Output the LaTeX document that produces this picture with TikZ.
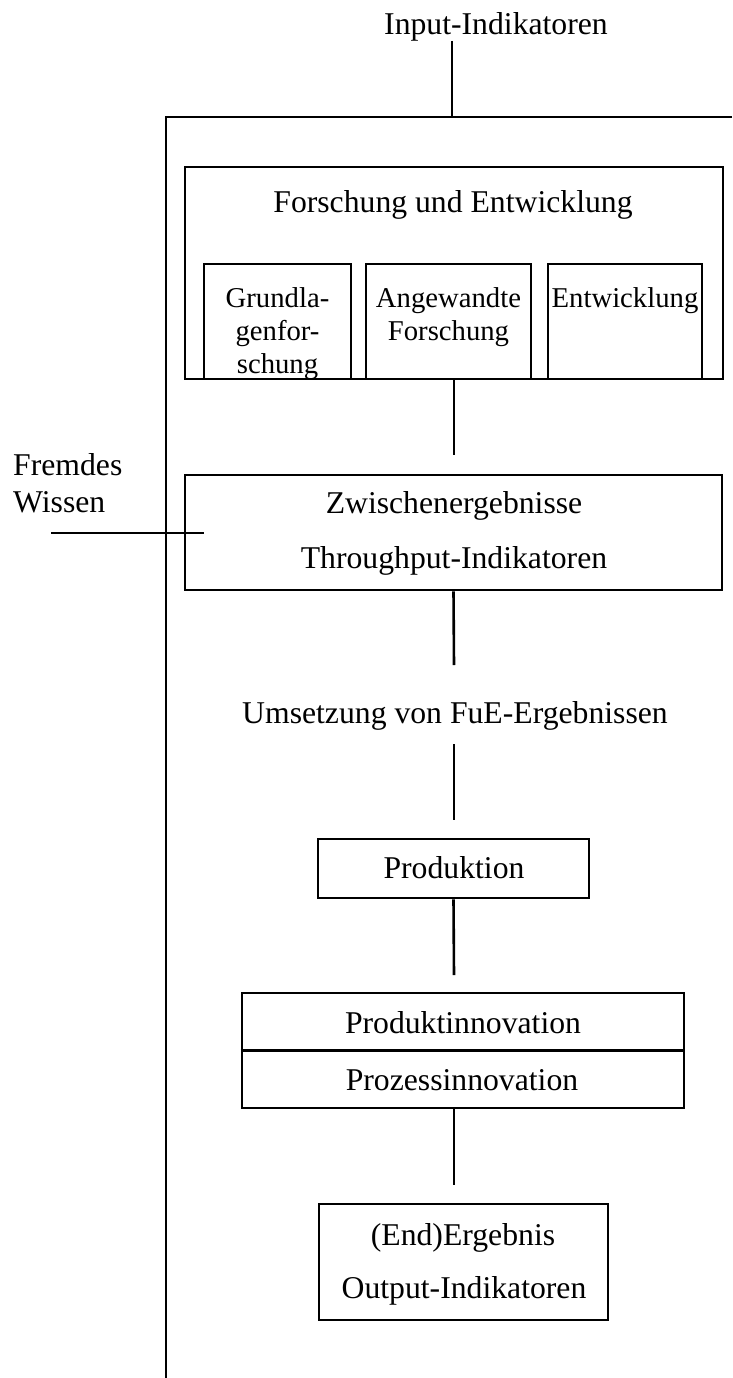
\documentclass[tikz,border=0pt]{standalone}
\usepackage{fontspec}
\setmainfont{Liberation Serif}
\begin{document}
\begin{tikzpicture}[x=1pt,y=-1pt,
  ln/.style={line width=2.6pt},
  box/.style={draw, rectangle, line width=2.6pt, inner sep=0pt},
  txt/.style={inner sep=0pt, anchor=base, font=\fontsize{31.7}{36.5}\selectfont},
  subtxt/.style={inner sep=0pt, anchor=base, font=\fontsize{28.7}{33}\selectfont}]
\useasboundingbox (0,0) rectangle (732,1378);

% outer frame: top bar and left rail
\coordinate (tr) at (732,117);
\coordinate (tl) at (166,117);
\coordinate (bl) at (166,1378);
\draw[ln] (tr) -- (tl) -- (bl);

% input indicators feeding the frame
\node[txt] (inp) at (496,35) {Input-Indikatoren};
\coordinate (inpA) at (452,41);
\coordinate (inpB) at (452,117);
\draw[ln] (inpA) -- (inpB);

% research and development block
\node[box, minimum width=538, minimum height=212] (fue) at (454,273) {};
\node[txt] (fuet) at (453,212) {Forschung und Entwicklung};
\node[box, minimum width=147, minimum height=115] (gl) at (277.5,321.5) {};
\node[box, minimum width=165, minimum height=115] (aw) at (448.5,321.5) {};
\node[box, minimum width=154, minimum height=115] (en) at (625,321.5) {};
\node[subtxt] (gl1) at (277.5,307) {Grundla-};
\node[subtxt] (gl2) at (277.5,340) {genfor-};
\node[subtxt] (gl3) at (277.5,373) {schung};
\node[subtxt] (aw1) at (448.5,307) {Angewandte};
\node[subtxt] (aw2) at (448.5,340) {Forschung};
\node[subtxt] (en1) at (625,307) {Entwicklung};

\coordinate (c1) at (454,455);
\draw[ln] (fue.south) -- (c1);

% intermediate results
\node[box, minimum width=537, minimum height=115] (zw) at (453.5,532.5) {};
\node[txt] (zw1) at (454,513) {Zwischenergebnisse};
\node[txt] (zw2) at (454,568) {Throughput-Indikatoren};

% external knowledge entering from the left
\node[txt, anchor=base west] (fw1) at (13,475) {Fremdes};
\node[txt, anchor=base west] (fw2) at (13,512) {Wissen};
\coordinate (fwA) at (51,533);
\coordinate (fwB) at (204,533);
\draw[ln] (fwA) -- (fwB);

\coordinate (c2) at (454,665);
\draw[ln] (zw.south) -- (c2);

% transfer of results
\node[txt] (ums) at (455,723) {Umsetzung von FuE-Ergebnissen};
\coordinate (c3) at (454,744);
\coordinate (c4) at (454,820);
\draw[ln] (c3) -- (c4);

% production
\node[box, minimum width=271, minimum height=59] (prod) at (453.5,868.5) {};
\node[txt] (prodt) at (454,878) {Produktion};
\coordinate (c5) at (454,975);
\draw[ln] (prod.south) -- (c5);

% product and process innovation
\node[box, minimum width=442, minimum height=115] (inno) at (463,1050.5) {};
\draw[ln] (inno.west) -- (inno.east);
\node[txt] (inno1) at (463,1033) {Produktinnovation};
\node[txt] (inno2) at (462,1090) {Prozessinnovation};
\coordinate (c6) at (454,1185);
\draw[ln] (inno.south -| c6) -- (c6);

% final results
\node[box, minimum width=289, minimum height=116] (erg) at (463.5,1262) {};
\node[txt] (erg1) at (463,1245) {(End)Ergebnis};
\node[txt] (erg2) at (464,1298) {Output-Indikatoren};
\end{tikzpicture}
\end{document}
